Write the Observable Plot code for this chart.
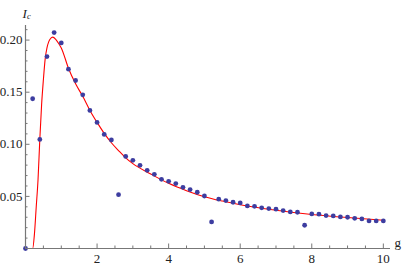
<!DOCTYPE html>
<html>
<head>
<meta charset="utf-8">
<script src="https://cdn.jsdelivr.net/npm/d3@7"></script>
<script src="https://cdn.jsdelivr.net/npm/@observablehq/plot@0.6"></script>
<style>
  html, body { margin: 0; padding: 0; background: #fff; overflow: hidden; }
  #chart svg { display: block; }
</style>
</head>
<body>
<div id="chart"></div>
<script>
// Simulation points (g, I_c)
const pointG = [0, 0.2, 0.4, 0.6, 0.8, 1.0, 1.2, 1.4, 1.6, 1.8, 2.0, 2.2, 2.4, 2.6, 2.8, 3.0, 3.2, 3.4, 3.6, 3.8, 4.0, 4.2, 4.4, 4.6, 4.8, 5.0, 5.2, 5.4, 5.6, 5.8, 6.0, 6.2, 6.4, 6.6, 6.8, 7.0, 7.2, 7.4, 7.6, 7.8, 8.0, 8.2, 8.4, 8.6, 8.8, 9.0, 9.2, 9.4, 9.6, 9.8, 10.0];
const pointIc = [0, 0.1437, 0.1047, 0.1842, 0.2072, 0.1973, 0.1721, 0.1612, 0.1475, 0.1325, 0.1210, 0.1095, 0.1041, 0.0517, 0.0884, 0.0846, 0.0798, 0.0750, 0.0712, 0.0664, 0.0645, 0.0623, 0.0587, 0.0565, 0.0540, 0.0504, 0.0255, 0.0473, 0.0460, 0.0444, 0.0437, 0.0409, 0.0405, 0.0390, 0.0383, 0.0377, 0.0364, 0.0351, 0.0348, 0.0223, 0.0332, 0.0329, 0.0316, 0.0313, 0.0303, 0.0300, 0.0290, 0.0284, 0.0265, 0.0265, 0.0265];

// Fitted curve
const curveG = [0, 0.2, 0.25, 0.3, 0.35, 0.4, 0.45, 0.5, 0.55, 0.6, 0.65, 0.7, 0.76, 0.85, 0.95, 1.0, 1.2, 1.4, 1.6, 1.8, 2.0, 2.2, 2.4, 2.6, 2.8, 3.0, 3.5, 4.0, 4.5, 5.0, 5.5, 6.0, 7.0, 8.0, 9.0, 10.0];
const curveIc = [0, 0, 0.014, 0.040, 0.066, 0.1047, 0.138, 0.162, 0.182, 0.1925, 0.1985, 0.2015, 0.2028, 0.2005, 0.1955, 0.1925, 0.1730, 0.1580, 0.1460, 0.1325, 0.1210, 0.1105, 0.1015, 0.0940, 0.0870, 0.0814, 0.0715, 0.0625, 0.0555, 0.0497, 0.0455, 0.0420, 0.0367, 0.0326, 0.0297, 0.0271];

const xMajorTicks = [2, 4, 6, 8, 10];
const yMajorTicks = [0.05, 0.10, 0.15, 0.20];
const xMinorTicks = [0.5, 1, 1.5, 2.5, 3, 3.5, 4.5, 5, 5.5, 6.5, 7, 7.5, 8.5, 9, 9.5];
const yMinorTicks = [0.01, 0.02, 0.03, 0.04, 0.06, 0.07, 0.08, 0.09, 0.11, 0.12, 0.13, 0.14, 0.16, 0.17, 0.18, 0.19, 0.21];
const xAxisExtent = [0, 10.2];
const yAxisExtent = [0, 0.214];

const points = pointG.map((g, i) => ({g, ic: pointIc[i]}));
const curve = curveG.map((g, i) => ({g, ic: curveIc[i]}));

const axisColor = "#777777";
const font = "Liberation Serif, DejaVu Serif, serif";

const chart = Plot.plot({
  width: 407,
  height: 265,
  marginLeft: 25,
  marginRight: 17,
  marginTop: 25,
  marginBottom: 17,
  x: {domain: xAxisExtent, axis: null},
  y: {domain: yAxisExtent, axis: null},
  marks: [
    // tick labels
    Plot.text(xMajorTicks, {x: d => d, y: 0, text: d => String(d), dy: 10.5, fontSize: 13, fontFamily: font, fill: "#222"}),
    Plot.text(yMajorTicks, {x: 0, y: d => d, text: d => d.toFixed(2), dx: -3, textAnchor: "end", fontSize: 13, fontFamily: font, fill: "#222"}),
    // axis labels
    Plot.text(["g"], {frameAnchor: "bottom-right", dx: 4, dy: -2, textAnchor: "start", fontSize: 13, fontFamily: font, fill: "#222"}),
    Plot.text(["I"], {frameAnchor: "top-left", dx: -3, dy: -17, textAnchor: "start", fontStyle: "italic", fontSize: 13, fontFamily: font, fill: "#222"}),
    Plot.text(["c"], {frameAnchor: "top-left", dx: 1.5, dy: -13, textAnchor: "start", fontStyle: "italic", fontSize: 8.5, fontFamily: font, fill: "#222"}),
    // fit curve
    Plot.line(curve, {x: "g", y: "ic", stroke: "#ff0000", strokeWidth: 1.1, curve: "monotone-x"}),
    // data points
    Plot.dot(points, {x: "g", y: "ic", r: 2.4, fill: "#3d3da0", stroke: "none"}),
    // axis lines through the origin (drawn last so nothing covers them)
    Plot.ruleY([0], {stroke: axisColor, strokeWidth: 1.2}),
    Plot.ruleX([0], {stroke: axisColor, strokeWidth: 1.2}),
    // inward ticks
    Plot.tickX(xMinorTicks, {x: d => d, stroke: axisColor, insetTop: 220.5}),
    Plot.tickX(xMajorTicks, {x: d => d, stroke: axisColor, insetTop: 218.5}),
    Plot.tickY(yMinorTicks, {y: d => d, stroke: axisColor, insetRight: 362.5}),
    Plot.tickY(yMajorTicks, {y: d => d, stroke: axisColor, insetRight: 360.5})
  ]
});
document.getElementById("chart").appendChild(chart);
</script>
</body>
</html>
